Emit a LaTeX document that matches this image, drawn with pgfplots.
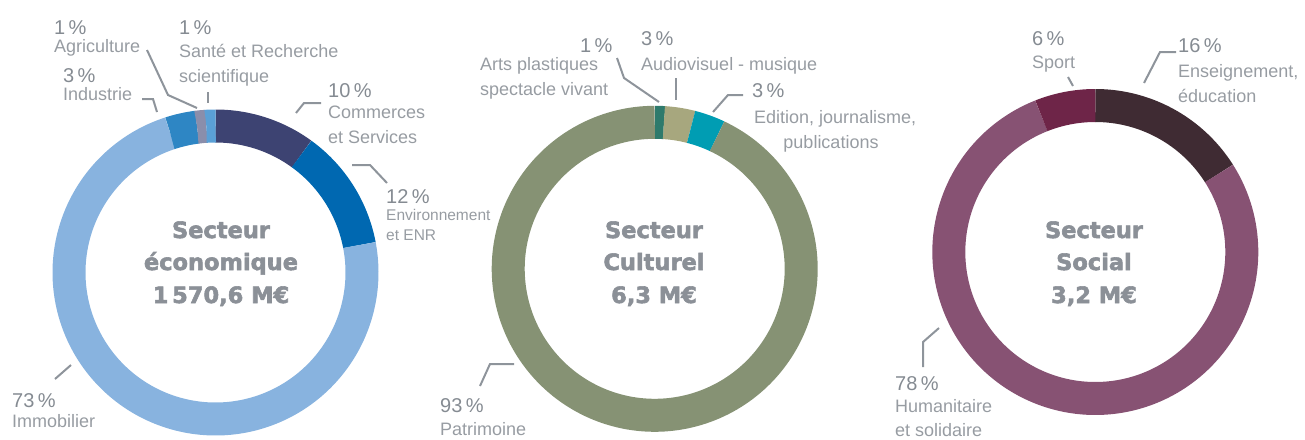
\documentclass[border=0pt]{standalone}
\usepackage{fontspec}
\setmainfont{Liberation Sans}
\newfontfamily\heavy{DejaVu Sans}[BoldFeatures={FakeBold=2.5}]
\usepackage{pgfplots}
\pgfplotsset{compat=1.18}
\definecolor{gtext}{HTML}{979CA2}
\definecolor{gpct}{HTML}{858B92}
\definecolor{gline}{HTML}{8E949B}
\definecolor{gctr}{HTML}{8B9097}
% economic
\definecolor{eCom}{HTML}{3D4372}
\definecolor{eEnv}{HTML}{0068B1}
\definecolor{eImm}{HTML}{88B3DF}
\definecolor{eInd}{HTML}{2E86C4}
\definecolor{eAgr}{HTML}{8A8EAB}
\definecolor{eSan}{HTML}{5AA0D6}
% culture
\definecolor{cArt}{HTML}{2E7A6C}
\definecolor{cAud}{HTML}{A7A77E}
\definecolor{cEdi}{HTML}{009DB3}
\definecolor{cPat}{HTML}{869274}
% social
\definecolor{sEns}{HTML}{3F2B33}
\definecolor{sHum}{HTML}{875273}
\definecolor{sSpo}{HTML}{6E2548}
\tikzset{
  pct/.style={anchor=base west, inner sep=0, text=gpct, font=\fontsize{20}{24}\selectfont},
  lab/.style={anchor=base west, inner sep=0, text=gtext, font=\fontsize{18}{22}\selectfont},
  labs/.style={anchor=base west, inner sep=0, text=gtext, font=\fontsize{15.5}{19}\selectfont},
  ctr/.style={anchor=base, inner sep=0, text=gctr, font=\heavy\bfseries\fontsize{22.5}{27}\selectfont},
  lead/.style={draw=gline, line width=2pt}}
% #1 cx, #2 cy, #3 start (cumulative %), #4 end (cumulative %), #5 colour
\newcommand{\seg}[5]{%
  \addplot[draw=#5, line width=33pt, line cap=butt, no markers,
    domain={3.6*#3}:{3.6*#4}, samples=200, variable=\t]
    ({#1+146.5*sin(\t)},{#2-146.5*cos(\t)});}
\begin{document}
\begin{tikzpicture}
\begin{axis}[hide axis, x=1pt, y=1pt, xmin=0, xmax=1305, ymin=0, ymax=439,
  y dir=reverse, clip=false]
% ---- Secteur economique (percent of 1570,6 M EUR)
\seg{215.5}{272.5}{0}{10}{eCom}
\seg{215.5}{272.5}{10}{22}{eEnv}
\seg{215.5}{272.5}{22}{95}{eImm}
\seg{215.5}{272.5}{95}{98}{eInd}
\seg{215.5}{272.5}{98}{99}{eAgr}
\seg{215.5}{272.5}{99}{100}{eSan}
% ---- Secteur culturel
\seg{654.7}{268.8}{0}{1}{cArt}
\seg{654.7}{268.8}{1}{4}{cAud}
\seg{654.7}{268.8}{4}{7}{cEdi}
\seg{654.7}{268.8}{7}{100}{cPat}
% ---- Secteur social
\seg{1095.3}{252}{0}{16}{sEns}
\seg{1095.3}{252}{16}{94}{sHum}
\seg{1095.3}{252}{94}{100}{sSpo}
% leader lines
\draw[lead] (147,50) -- (168,95) -- (197,108);
\draw[lead] (208,92) -- (208,103);
\draw[lead] (142,99) -- (153,99) -- (157,112);
\draw[lead] (296,113) -- (304,103) -- (321,103);
\draw[lead] (352,165) -- (370,165) -- (387,183);
\draw[lead] (71,365) -- (55,379);
\draw[lead] (617,58) -- (624,78) -- (659,102);
\draw[lead] (676,78) -- (676,100);
\draw[lead] (713,112) -- (728,95) -- (743,95);
\draw[lead] (480,386) -- (490,364) -- (514,364);
\draw[lead] (1068,77) -- (1073,86);
\draw[lead] (1144,83) -- (1160,52) -- (1176,52);
\draw[lead] (939,328) -- (923,342) -- (923,367);
% labels: economic
\node[pct] at (54,34) {1\,\%};
\node[lab] at (54,52) {Agriculture};
\node[pct] at (179,34) {1\,\%};
\node[lab] at (179,57) {Santé et Recherche};
\node[lab] at (179,82) {scientifique};
\node[pct] at (63,82) {3\,\%};
\node[lab] at (63,100) {Industrie};
\node[pct] at (328,97) {10\,\%};
\node[lab] at (328,118) {Commerces};
\node[lab] at (328,143) {et Services};
\node[pct] at (386,203) {12\,\%};
\node[labs] at (386,220) {Environnement};
\node[labs] at (386,240) {et ENR};
\node[pct] at (12,407) {73\,\%};
\node[lab] at (12,427) {Immobilier};
\node[ctr] at (221,238) {Secteur};
\node[ctr] at (221,270) {économique};
\node[ctr] at (221,303) {1\,570,6 M€};
% labels: culture
\node[pct] at (580,52) {1\,\%};
\node[lab] at (480,70) {Arts plastiques};
\node[lab] at (480,95) {spectacle vivant};
\node[pct] at (641,45) {3\,\%};
\node[lab] at (641,70) {Audiovisuel - musique};
\node[pct] at (752,97) {3\,\%};
\node[lab] at (754,123) {Edition, journalisme,};
\node[lab, anchor=base] at (831,148) {publications};
\node[pct] at (440,412) {93\,\%};
\node[lab] at (440,435) {Patrimoine};
\node[ctr] at (654,238) {Secteur};
\node[ctr] at (654,270) {Culturel};
\node[ctr] at (654,303) {6,3 M€};
% labels: social
\node[pct] at (1032,45) {6\,\%};
\node[lab] at (1032,68) {Sport};
\node[pct] at (1178,52) {16\,\%};
\node[lab] at (1178,77) {Enseignement,};
\node[lab] at (1178,102) {éducation};
\node[pct] at (895,390) {78\,\%};
\node[lab] at (895,412) {Humanitaire};
\node[lab] at (895,436) {et solidaire};
\node[ctr] at (1094,238) {Secteur};
\node[ctr] at (1094,270) {Social};
\node[ctr] at (1094,303) {3,2 M€};
\end{axis}
\pgfresetboundingbox
\path (current axis.south west) rectangle (current axis.north east);
\end{tikzpicture}
\end{document}
